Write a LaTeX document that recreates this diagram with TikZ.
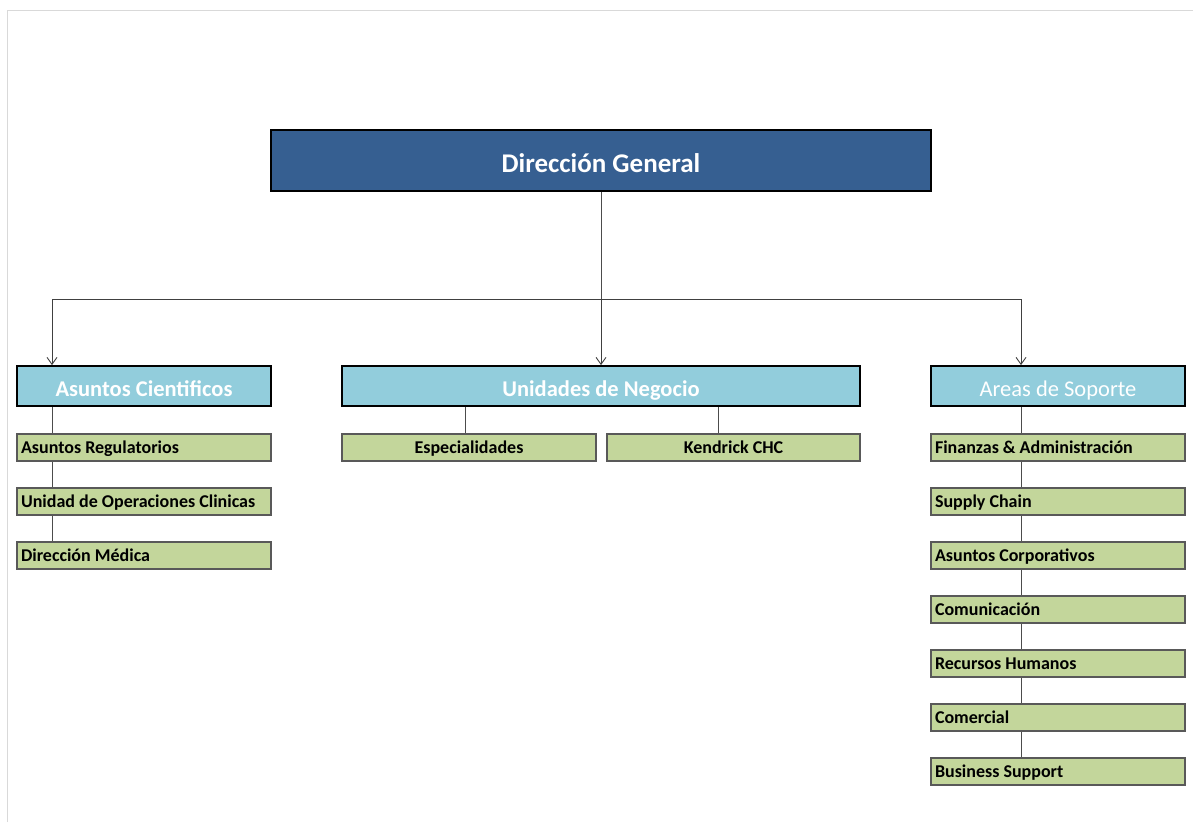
\documentclass[tikz,border=0pt]{standalone}
\usepackage{fontspec}
\setmainfont{Carlito}
\usepackage{xcolor}
\usepackage{tikz}
\usetikzlibrary{arrows.meta,positioning}

\definecolor{dirblue}{RGB}{54,95,145}
\definecolor{areablue}{RGB}{146,205,220}
\definecolor{unitgreen}{RGB}{195,214,155}

\begin{document}
\begin{tikzpicture}[
    x=1pt, y=-1pt,
    node distance=25.8pt and 9.8pt,
    topbox/.style={rectangle, draw=black, fill=dirblue, line width=2pt, minimum width=660pt, minimum height=61pt, text height=23pt, text depth=0pt, text=white, font=\fontsize{27}{32}\selectfont\bfseries},
    areabox/.style={rectangle, draw=black, fill=areablue, line width=1.8pt, minimum height=40pt, text height=20pt, text depth=0pt, text=white, font=\fontsize{22.5}{26}\selectfont},
    unitbox/.style={rectangle, draw=black!65, fill=unitgreen, line width=1.2pt, minimum width=254pt, minimum height=27pt, inner xsep=3pt, text height=12pt, text depth=0pt, font=\fontsize{18}{21}\selectfont\bfseries},
    leftunit/.style={unitbox, text width=246pt, align=left, execute at begin node={\spaceskip=0pt\xspaceskip=0pt\relax}},
    link/.style={draw=black!70, line width=0.9pt},
    arrow/.style={-{Straight Barb[length=7pt,width=10pt]}, draw=black!75, line width=0.9pt}
]
    \useasboundingbox (0,0) rectangle (1193,822);
    \draw [black!15, line width=1pt] (7,822) -- (7,10) -- (1193,10);

    \node [topbox] (dir) at (601,160.5) {Dirección General};

    \node [areabox, minimum width=254pt, font=\fontsize{22.5}{26}\selectfont\bfseries] (cien) at (144,386) {Asuntos Cientificos};
    \node [areabox, minimum width=518pt, font=\fontsize{22.5}{26}\selectfont\bfseries] (neg) at (601,386) {Unidades de Negocio};
    \node [areabox, minimum width=254pt] (sop) at (1058,386) {Areas de Soporte};

    % Asuntos Cientificos
    \node [leftunit] (reg) at (144,447.5) {Asuntos Regulatorios};
    \node [leftunit, below=of reg] (uoc) {Unidad de Operaciones Clinicas};
    \node [leftunit, below=of uoc] (med) {Dirección Médica};

    % Unidades de Negocio
    \node [unitbox] (esp) at (469,447.5) {Especialidades};
    \node [unitbox, right=of esp, minimum width=253pt] (kch) {Kendrick CHC};

    % Areas de Soporte
    \node [leftunit] (fin) at (1058,447.5) {Finanzas \& Administración};
    \node [leftunit, below=of fin] (sup) {Supply Chain};
    \node [leftunit, below=of sup] (cor) {Asuntos Corporativos};
    \node [leftunit, below=of cor] (com) {Comunicación};
    \node [leftunit, below=of com] (rrh) {Recursos Humanos};
    \node [leftunit, below=of rrh] (cml) {Comercial};
    \node [leftunit, below=of cml] (bsu) {Business Support};

    \coordinate (split) at (601,299);
    \coordinate (lcol) at (52,299);
    \coordinate (rcol) at (1021,299);
    \coordinate (ecol) at (465,0);
    \coordinate (kcol) at (718,0);

    \draw [link] (dir) -- (split);
    \draw [arrow] (split) -- (lcol) -- (lcol |- cien.north);
    \draw [arrow] (split) -- (neg);
    \draw [arrow] (split) -- (rcol) -- (rcol |- sop.north);

    \draw [link] (lcol |- cien.south) -- (lcol |- reg.north);
    \draw [link] (lcol |- reg.south) -- (lcol |- uoc.north);
    \draw [link] (lcol |- uoc.south) -- (lcol |- med.north);

    \draw [link] (ecol |- neg.south) -- (ecol |- esp.north);
    \draw [link] (kcol |- neg.south) -- (kcol |- kch.north);

    \draw [link] (rcol |- sop.south) -- (rcol |- fin.north);
    \draw [link] (rcol |- fin.south) -- (rcol |- sup.north);
    \draw [link] (rcol |- sup.south) -- (rcol |- cor.north);
    \draw [link] (rcol |- cor.south) -- (rcol |- com.north);
    \draw [link] (rcol |- com.south) -- (rcol |- rrh.north);
    \draw [link] (rcol |- rrh.south) -- (rcol |- cml.north);
    \draw [link] (rcol |- cml.south) -- (rcol |- bsu.north);
\end{tikzpicture}
\end{document}
